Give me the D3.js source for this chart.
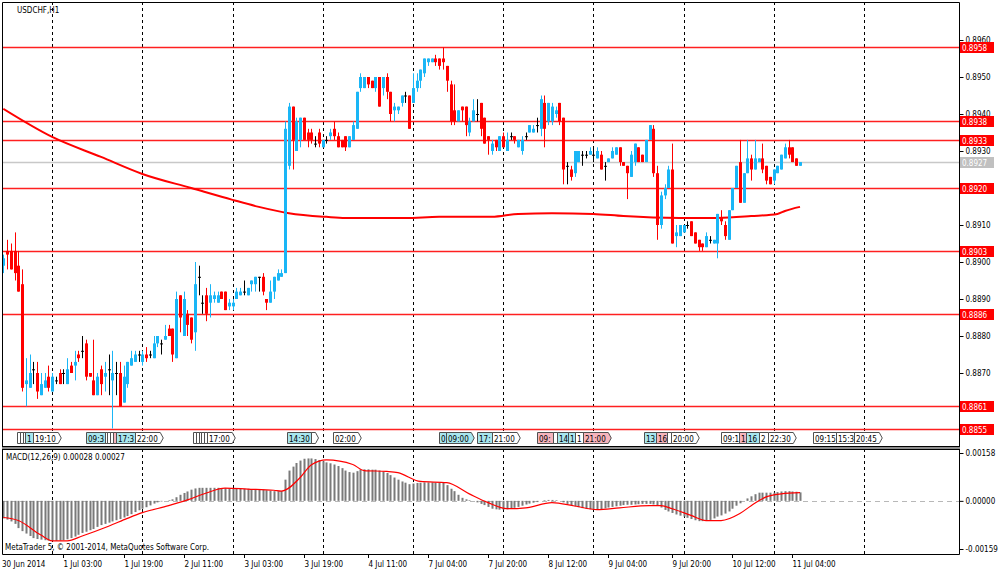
<!DOCTYPE html>
<html>
<head>
<meta charset="utf-8">
<script src="https://cdn.jsdelivr.net/npm/d3@7"></script>
<style>
body { margin: 0; background: #fff; }
svg text { font-family: "DejaVu Sans Condensed", "DejaVu Sans", sans-serif; font-stretch: condensed; font-size: 8px; }
</style>
</head>
<body>
<svg id="chart" width="1000" height="574"></svg>
<script>
// USDCHF H1 bars
const barOpen = [
.8899,.8903,.8903,.8903,.8899,.8894,.8867,.8866,.8871,.8870,.8864,.8866,.8869,.8865,.8868,.8870,.8870,.8867,.8872,.8872,
.8875,.8876,.8878,.8870,.8868,.8864,.8871,.8869,.8871,.8868,.8870,.8870,.8862,.8867,.8872,.8873,.8875,.8873,.8875,.8875,
.8874,.8878,.8878,.8879,.8882,.8882,.8874,.8891,.8880,.8886,.8885,.8881,.8896,.8889,.8891,.8889,.8890,.8889,.8892,.8892,
.8888,.8888,.8890,.8891,.8892,.8891,.8894,.8894,.8896,.8896,.8890,.8889,.8892,.8895,.8896,.8897,.8926,.8942,.8930,.8933,
.8939,.8935,.8935,.8932,.8935,.8931,.8933,.8934,.8936,.8934,.8933,.8934,.8931,.8933,.8936,.8947,.8947,.8950,.8949,.8947,
.8950,.8947,.8950,.8946,.8941,.8941,.8943,.8945,.8945,.8943,.8947,.8949,.8951,.8954,.8954,.8955,.8955,.8955,.8953,.8948,
.8941,.8938,.8942,.8942,.8935,.8938,.8940,.8943,.8939,.8934,.8930,.8933,.8930,.8934,.8930,.8934,.8934,.8931,.8930,.8934,
.8935,.8935,.8937,.8936,.8943,.8938,.8938,.8940,.8943,.8939,.8926,.8925,.8924,.8927,.8929,.8929,.8929,.8929,.8928,.8929,
.8926,.8927,.8928,.8929,.8931,.8927,.8926,.8923,.8927,.8931,.8929,.8927,.8933,.8936,.8924,.8910,.8918,.8920,.8925,.8907,
.8907,.8908,.8910,.8911,.8908,.8906,.8905,.8904,.8906,.8905,.8905,.8912,.8910,.8906,.8914,.8920,.8927,.8916,.8924,.8928,
.8925,.8927,.8928,.8926,.8923,.8922,.8924,.8925,.8928,.8931,.8931,.8928,.8926
];
const barHigh = [
.8902,.8906,.8905,.8908,.8903,.8898,.8874,.8875,.8873,.8873,.8870,.8870,.8872,.8870,.8869,.8871,.8871,.8874,.8873,.8876,
.8876,.8880,.8879,.8870,.8879,.8870,.8872,.8873,.8875,.8876,.8873,.8873,.8872,.8873,.8876,.8876,.8876,.8876,.8877,.8876,
.8880,.8880,.8879,.8883,.8883,.8882,.8892,.8891,.8892,.8887,.8885,.8900,.8899,.8891,.8893,.8894,.8892,.8892,.8892,.8892,
.8890,.8890,.8893,.8893,.8895,.8893,.8895,.8896,.8896,.8897,.8890,.8895,.8896,.8898,.8898,.8938,.8943,.8942,.8939,.8939,
.8939,.8936,.8936,.8934,.8936,.8933,.8934,.8936,.8938,.8935,.8933,.8934,.8934,.8938,.8946,.8951,.8950,.8950,.8949,.8950,
.8950,.8950,.8951,.8946,.8943,.8942,.8945,.8946,.8945,.8951,.8951,.8952,.8955,.8955,.8955,.8956,.8955,.8958,.8953,.8949,
.8948,.8941,.8942,.8942,.8939,.8944,.8944,.8943,.8939,.8934,.8933,.8933,.8934,.8935,.8935,.8935,.8934,.8933,.8934,.8935,
.8937,.8937,.8939,.8945,.8945,.8943,.8943,.8942,.8943,.8939,.8927,.8926,.8930,.8930,.8930,.8930,.8931,.8931,.8931,.8930,
.8927,.8928,.8931,.8931,.8931,.8927,.8926,.8930,.8932,.8931,.8929,.8933,.8937,.8937,.8926,.8919,.8921,.8926,.8932,.8910,
.8910,.8910,.8911,.8911,.8908,.8906,.8905,.8908,.8907,.8906,.8913,.8914,.8911,.8914,.8920,.8926,.8933,.8924,.8933,.8929,
.8933,.8928,.8932,.8926,.8923,.8925,.8926,.8929,.8932,.8933,.8931,.8928,.8927
];
const barLow = [
.8897,.8898,.8898,.8895,.8892,.8865,.8861,.8866,.8867,.8863,.8864,.8866,.8865,.8865,.8867,.8867,.8867,.8867,.8870,.8868,
.8873,.8874,.8868,.8869,.8864,.8864,.8864,.8865,.8864,.8855,.8864,.8861,.8862,.8866,.8872,.8873,.8873,.8872,.8873,.8874,
.8874,.8877,.8875,.8879,.8880,.8873,.8874,.8881,.8880,.8880,.8878,.8876,.8891,.8886,.8884,.8885,.8889,.8889,.8890,.8887,
.8887,.8887,.8890,.8891,.8891,.8891,.8892,.8892,.8892,.8891,.8887,.8889,.8890,.8895,.8896,.8897,.8925,.8925,.8930,.8931,
.8933,.8931,.8932,.8931,.8931,.8931,.8932,.8933,.8933,.8931,.8931,.8930,.8931,.8933,.8936,.8946,.8947,.8947,.8947,.8946,
.8942,.8945,.8944,.8938,.8938,.8940,.8942,.8943,.8936,.8943,.8946,.8947,.8950,.8953,.8954,.8953,.8952,.8952,.8946,.8937,
.8937,.8938,.8938,.8934,.8934,.8938,.8938,.8934,.8932,.8929,.8929,.8930,.8930,.8931,.8930,.8933,.8932,.8931,.8929,.8933,
.8935,.8935,.8935,.8934,.8931,.8937,.8937,.8939,.8937,.8921,.8921,.8922,.8923,.8927,.8926,.8928,.8929,.8927,.8928,.8925,
.8922,.8927,.8928,.8929,.8926,.8926,.8917,.8923,.8926,.8927,.8927,.8927,.8933,.8923,.8906,.8909,.8917,.8920,.8905,.8904,
.8907,.8908,.8909,.8907,.8905,.8903,.8903,.8904,.8905,.8905,.8901,.8910,.8906,.8906,.8914,.8920,.8916,.8916,.8924,.8922,
.8925,.8927,.8924,.8921,.8921,.8921,.8924,.8925,.8928,.8928,.8927,.8926,.8926
];
const barClose = [
.8901,.8902,.8898,.8897,.8892,.8866,.8868,.8870,.8871,.8865,.8867,.8868,.8866,.8869,.8868,.8867,.8870,.8871,.8870,.8873,
.8874,.8876,.8869,.8869,.8864,.8869,.8867,.8870,.8871,.8870,.8870,.8861,.8869,.8873,.8874,.8875,.8875,.8875,.8874,.8875,
.8878,.8880,.8878,.8880,.8880,.8875,.8890,.8885,.8890,.8883,.8879,.8894,.8896,.8889,.8886,.8891,.8891,.8891,.8890,.8887,
.8889,.8889,.8892,.8892,.8892,.8893,.8895,.8896,.8896,.8892,.8889,.8892,.8896,.8897,.8897,.8936,.8942,.8933,.8938,.8939,
.8933,.8933,.8933,.8932,.8932,.8933,.8933,.8935,.8934,.8931,.8931,.8931,.8934,.8937,.8946,.8950,.8950,.8948,.8947,.8950,
.8942,.8950,.8946,.8940,.8942,.8942,.8945,.8945,.8936,.8947,.8949,.8952,.8955,.8955,.8955,.8954,.8953,.8954,.8949,.8938,
.8938,.8941,.8941,.8937,.8938,.8941,.8940,.8936,.8932,.8933,.8932,.8931,.8934,.8931,.8933,.8934,.8933,.8933,.8933,.8934,
.8937,.8936,.8937,.8944,.8936,.8943,.8942,.8941,.8938,.8925,.8926,.8923,.8930,.8930,.8929,.8929,.8930,.8929,.8930,.8925,
.8926,.8928,.8930,.8931,.8927,.8926,.8924,.8929,.8932,.8927,.8927,.8933,.8937,.8924,.8910,.8918,.8920,.8925,.8905,.8908,
.8910,.8910,.8910,.8907,.8905,.8904,.8904,.8907,.8906,.8906,.8913,.8911,.8907,.8914,.8920,.8926,.8916,.8924,.8928,.8925,
.8928,.8928,.8925,.8922,.8921,.8925,.8926,.8929,.8931,.8929,.8927,.8926,.8927
];

// moving average, read at a few bars
const maBar = [0, 13, 26, 37, 50, 61, 68, 76, 86, 91, 107, 116, 130, 137, 146, 157, 165, 180, 190, 199, 206, 208, 212];
const maValue = [.89414, .89338, .89284, .89238, .89200, .89168, .89149, .89132, .89122, .89119, .89119, .89122, .89122,
  .89130, .89132, .89130, .89124, .89119, .89119, .89124, .89130, .89138, .89149];

// MACD main values (histogram), one per bar
const macdMain = [
-.00058,-.00062,-.00068,-.00076,-.00090,-.00100,-.00108,-.00116,-.00123,-.00126,-.00128,-.00130,-.00131,-.00132,-.00132,-.00131,-.00130,-.00127,-.00123,-.00118,
-.00112,-.00106,-.00102,-.00097,-.00093,-.00086,-.00080,-.00076,-.00072,-.00068,-.00064,-.00060,-.00055,-.00050,-.00044,-.00037,-.00031,-.00026,-.00021,-.00015,
-.00009,-.00005,-.00002,.00000,.00002,.00005,.00012,.00020,.00026,.00031,.00037,.00041,.00043,.00043,.00043,.00043,.00043,.00043,.00042,.00042,
.00041,.00041,.00041,.00040,.00040,.00040,.00039,.00039,.00038,.00037,.00035,.00033,.00032,.00032,.00033,.00070,.00100,.00113,.00125,.00133,
.00139,.00140,.00140,.00138,.00135,.00131,.00127,.00124,.00120,.00115,.00108,.00100,.00095,.00093,.00098,.00103,.00104,.00104,.00103,.00103,
.00100,.00097,.00092,.00085,.00077,.00070,.00064,.00060,.00055,.00057,.00059,.00060,.00061,.00061,.00061,.00060,.00060,.00060,.00052,.00040,
.00032,.00020,.00010,.00005,.00002,.00000,-.00005,-.00010,-.00014,-.00020,-.00026,-.00028,-.00029,-.00029,-.00028,-.00026,-.00023,-.00020,-.00016,-.00012,
-.00009,-.00006,-.00004,.00000,.00002,.00003,.00003,.00002,.00000,-.00005,-.00010,-.00014,-.00018,-.00021,-.00024,-.00026,-.00028,-.00029,-.00029,-.00028,
-.00025,-.00022,-.00020,-.00018,-.00016,-.00014,-.00013,-.00013,-.00012,-.00011,-.00010,-.00010,-.00010,-.00012,-.00016,-.00022,-.00030,-.00035,-.00040,-.00045,
-.00049,-.00052,-.00056,-.00060,-.00064,-.00067,-.00067,-.00066,-.00063,-.00058,-.00052,-.00048,-.00042,-.00035,-.00026,-.00016,-.00008,.00000,.00008,.00015,
.00022,.00027,.00027,.00027,.00027,.00027,.00029,.00031,.00032,.00032,.00031,.00030,.00028
];
// MACD signal line, read at a few bars
const signalBar = [0, 4, 10, 13, 17, 21, 28, 33, 37, 44, 49, 54, 59, 65, 72, 74, 79, 82, 86, 93, 96, 102, 105, 111, 118,
  124, 129, 134, 139, 146, 152, 158, 164, 172, 175, 178, 183, 187, 191, 196, 199, 203, 207, 212];
const signalValue = [-.00055, -.00065, -.00113, -.00132, -.00132, -.00116, -.00084, -.00058, -.00039, -.00016, .00003, .00026,
  .00042, .00039, .00035, .00032, .00077, .00119, .00135, .00120, .00100, .00097, .00093, .00064, .00060, .00023, -.00006,
  -.00026, -.00023, -.00006, -.00017, -.00029, -.00023, -.00016, -.00016, -.00026, -.00048, -.00065, -.00065, -.00042,
  -.00016, .00013, .00023, .00027];

// horizontal price lines and bid
const levelPrices = [0.8958, 0.8938, 0.8933, 0.8920, 0.8903, 0.8886, 0.8861, 0.8855];
const bidPrice = 0.8927;
const priceTicks = [0.8960, 0.8950, 0.8940, 0.8930, 0.8910, 0.8900, 0.8890, 0.8880, 0.8870, 0.8860];
const macdTicks = [0.00158, 0, -0.00159];

// time axis
const timeTickBar = [0, 16, 32, 48, 64, 80, 97, 113, 129, 145, 161, 178, 194, 210];
const timeTickLabel = ["30 Jun 2014", "1 Jul 03:00", "1 Jul 19:00", "2 Jul 11:00", "3 Jul 03:00", "3 Jul 19:00",
  "4 Jul 11:00", "7 Jul 04:00", "7 Jul 20:00", "8 Jul 12:00", "9 Jul 04:00", "9 Jul 20:00", "10 Jul 12:00", "11 Jul 04:00"];

// calendar events (bar position, text, kind)
const eventBar = [3.6, 4.4, 5.2, 5.8, 7.9, 22.0, 27.1, 27.7, 28.4, 29.2, 30.0, 35.0, 50.5, 51.2, 52.0, 52.6, 53.4, 54.2,
  75.4, 81.9, 87.7, 115.9, 117.7, 126.0, 130.0, 142.0, 146.2, 147.3, 150.2, 152.0, 154.2, 170.4, 173.6, 176.5, 177.6,
  190.9, 195.7, 197.5, 201.2, 203.4, 215.4, 221.7, 226.3];
const eventText = ["", "", "", "1", "19:10", "09:30", "", "", "", "", "17:30", "22:00", "", "", "", "", "", "17:00",
  "14:30", "", "02:00", "0", "09:00", "17:30", "21:00", "09:15", "", "14", "1", "1", "21:00", "13", "16", "", "20:00",
  "09:15", "1", "16", "2", "22:30", "09:15", "15:30", "20:45"];
const eventKind = ["w", "w", "w", "c", "w", "c", "w", "w", "w", "p", "c", "w", "w", "w", "w", "w", "w", "w",
  "c", "w", "w", "c", "c", "c", "w", "p", "w", "c", "c", "w", "p", "c", "p", "w", "w",
  "w", "p", "c", "w", "w", "w", "w", "w"];

const W = 1000, H = 574;
const left = 2, right = 959;
const mainTop = 2, mainBottom = 446;
const macdTop = 449, macdBottom = 554;

const colors = {up: "#1ab6f6", down: "#ff0000", doji: "#000000", level: "#ff2020", bid: "#c8c8c8",
  hist: "#7a7a7a", signal: "#ff0000", ma: "#ff0000", grid: "#000000"};
const eventFill = {w: "#ffffff", c: "#a8e6ee", p: "#f6b4bc"};

const svg = d3.select("#chart");
svg.append("rect").attr("width", W).attr("height", H).attr("fill", "#fff");

const x = d3.scaleLinear().domain([0, barClose.length - 1]).range([3.3, 800]);
const y = d3.scaleLinear().domain([0.8860, 0.8960]).range([410, 40]);
const ym = d3.scaleLinear().domain([-0.00159, 0.00158]).range([549, 453]);

const defs = svg.append("defs");
defs.append("clipPath").attr("id", "clipMain")
    .append("rect").attr("x", left + 1).attr("y", mainTop + 1)
    .attr("width", right - left - 1).attr("height", mainBottom - mainTop - 1);
defs.append("clipPath").attr("id", "clipMacd")
    .append("rect").attr("x", left + 1).attr("y", macdTop + 1)
    .attr("width", right - left - 1).attr("height", macdBottom - macdTop - 1);

const main = svg.append("g").attr("clip-path", "url(#clipMain)");
const macd = svg.append("g").attr("clip-path", "url(#clipMacd)");

// vertical dashed grid, every 24 bars
const gridBars = d3.range(13, 240, 24);
[[main, mainTop, mainBottom], [macd, macdTop, macdBottom]].forEach(([g, t, b]) => {
    g.selectAll("line.grid")
        .data(gridBars)
        .join("line")
        .attr("class", "grid")
        .attr("x1", d => Math.round(x(d)) + 0.5)
        .attr("x2", d => Math.round(x(d)) + 0.5)
        .attr("y1", t)
        .attr("y2", b)
        .attr("stroke", colors.grid)
        .attr("stroke-dasharray", "3,3");
});

// bid line
main.append("line")
    .attr("x1", left).attr("x2", right)
    .attr("y1", Math.round(y(bidPrice)) + 0.5).attr("y2", Math.round(y(bidPrice)) + 0.5)
    .attr("stroke", colors.bid).attr("stroke-width", 1.5);

// price level lines
main.selectAll("line.level")
    .data(levelPrices)
    .join("line")
    .attr("class", "level")
    .attr("x1", left).attr("x2", right)
    .attr("y1", d => Math.round(y(d)) + 0.5)
    .attr("y2", d => Math.round(y(d)) + 0.5)
    .attr("stroke", colors.level)
    .attr("stroke-width", 1.3);

// moving average
const maLine = d3.line()
    .x((d, i) => x(maBar[i]))
    .y(d => y(d))
    .curve(d3.curveMonotoneX);
main.append("path")
    .attr("d", maLine(maValue))
    .attr("fill", "none")
    .attr("stroke", colors.ma)
    .attr("stroke-width", 2);

// candles
const bars = barClose.map((c, i) => ({i, o: barOpen[i], h: barHigh[i], l: barLow[i], c}));
const candleColor = d => d.c > d.o ? colors.up : (d.c < d.o ? colors.down : colors.doji);
const candles = main.append("g").selectAll("g")
    .data(bars)
    .join("g");
candles.append("line")
    .attr("x1", d => Math.round(x(d.i)) + 0.5)
    .attr("x2", d => Math.round(x(d.i)) + 0.5)
    .attr("y1", d => y(d.h))
    .attr("y2", d => y(d.l))
    .attr("stroke", candleColor)
    .attr("stroke-width", 1);
candles.append("rect")
    .attr("x", d => Math.round(x(d.i)) - 1)
    .attr("width", 3)
    .attr("y", d => y(Math.max(d.o, d.c)))
    .attr("height", d => Math.max(1, Math.abs(y(d.o) - y(d.c))))
    .attr("fill", candleColor);

// calendar events row: each label is cut where the next one starts
const evG = main.append("g");
const evX = eventBar.map(e => Math.round(x(e)) + 0.5);
eventBar.forEach((e, i) => {
    const x0 = evX[i];
    const room = i < eventBar.length - 1 ? evX[i + 1] - x0 : Infinity;
    const g = evG.append("g");
    const path = g.append("path");
    const t = g.append("text")
        .attr("x", x0 + 1.5)
        .attr("y", 441.5)
        .attr("fill", "#000");
    let label = eventText[i];
    t.text(label);
    const full = label ? t.node().getComputedTextLength() : 0;
    while (label.length && t.node().getComputedTextLength() + 1 > room) {
        label = label.slice(0, -1);
        t.text(label);
    }
    const w = full + 7;
    const y0 = 432.5, y1 = 443.5;
    path.attr("d", `M${x0},${y0}H${x0 + w - 3}L${x0 + w},${(y0 + y1) / 2}L${x0 + w - 3},${y1}H${x0}Z`)
        .attr("fill", eventFill[eventKind[i]])
        .attr("stroke", "#505050")
        .attr("stroke-width", 1);
});

// MACD zero line, histogram and signal
macd.append("line")
    .attr("x1", left).attr("x2", right)
    .attr("y1", Math.round(ym(0)) + 0.5).attr("y2", Math.round(ym(0)) + 0.5)
    .attr("stroke", "#b8b8b8")
    .attr("stroke-dasharray", "5,4");

macd.append("g").selectAll("rect")
    .data(macdMain)
    .join("rect")
    .attr("x", (d, i) => Math.round(x(i)) - 0.5)
    .attr("width", 2)
    .attr("y", d => Math.min(ym(d), ym(0)))
    .attr("height", d => Math.abs(ym(d) - ym(0)))
    .attr("fill", colors.hist);

const sigLine = d3.line()
    .x((d, i) => x(signalBar[i]))
    .y(d => ym(d))
    .curve(d3.curveMonotoneX);
macd.append("path")
    .attr("d", sigLine(signalValue))
    .attr("fill", "none")
    .attr("stroke", colors.signal)
    .attr("stroke-width", 1.2);

// frames
svg.append("path")
    .attr("d", `M${left + 0.5},${mainTop + 0.5}H${right + 0.5}V${macdBottom + 0.5}H${left + 0.5}Z`)
    .attr("fill", "none").attr("stroke", "#000");
svg.append("rect")
    .attr("x", left).attr("y", mainBottom).attr("width", right - left + 1).attr("height", 3)
    .attr("fill", "#8c8c8c");
svg.append("line")
    .attr("x1", left).attr("x2", right + 1).attr("y1", mainBottom + 0.5).attr("y2", mainBottom + 0.5)
    .attr("stroke", "#000");
svg.append("line")
    .attr("x1", left).attr("x2", right + 1).attr("y1", macdTop + 0.5).attr("y2", macdTop + 0.5)
    .attr("stroke", "#000");

// price axis; a tick label sitting under a price tag stays hidden, as in the terminal
const tagPrices = levelPrices.concat([bidPrice]);
const priceAxis = d3.axisRight(y)
    .tickValues(priceTicks)
    .tickSize(4)
    .tickPadding(2)
    .tickFormat(d3.format(".4f"));
svg.append("g")
    .attr("transform", `translate(${right + 0.5},0)`)
    .call(priceAxis)
    .call(g => g.select(".domain").remove())
    .call(g => g.selectAll("text").attr("font-size", null).attr("font-family", null).attr("fill", "#000"))
    .call(g => g.selectAll(".tick text")
        .filter(d => tagPrices.some(p => Math.abs(y(p) - y(d)) < 5))
        .remove());

const macdAxis = d3.axisRight(ym)
    .tickValues(macdTicks)
    .tickSize(4)
    .tickPadding(2)
    .tickFormat(d3.format(".5f"));
svg.append("g")
    .attr("transform", `translate(${right + 0.5},0)`)
    .call(macdAxis)
    .call(g => g.select(".domain").remove())
    .call(g => g.selectAll("text").attr("font-size", null).attr("font-family", null).attr("fill", "#000"))
    .call(g => g.selectAll(".tick text").text(d => d < 0 ? "-" + d3.format(".5f")(-d) : d3.format(".5f")(d)));

// price tags on the right
const tags = svg.append("g");
const tagData = levelPrices.map(p => ({p, fill: "#ff0000"})).concat([{p: bidPrice, fill: "#c0c0c0"}]);
tags.selectAll("g")
    .data(tagData)
    .join("g")
    .each(function(d) {
        const g = d3.select(this);
        const cy = Math.round(y(d.p));
        g.append("rect")
            .attr("x", right + 1).attr("y", cy - 5)
            .attr("width", 34).attr("height", 11)
            .attr("fill", d.fill);
        g.append("text")
            .attr("x", right + 3).attr("y", cy + 3.5)
            .attr("fill", "#fff")
            .text(d3.format(".4f")(d.p));
    });

// time axis
const timeG = svg.append("g");
timeTickBar.forEach((b, i) => {
    const tx = i === 0 ? 2 : Math.round(x(b)) + 0.5;
    if (i > 0) {
        timeG.append("line")
            .attr("x1", tx).attr("x2", tx)
            .attr("y1", macdBottom).attr("y2", macdBottom + 4)
            .attr("stroke", "#000");
    }
    timeG.append("text")
        .attr("x", i === 0 ? 2 : tx)
        .attr("y", 567)
        .attr("fill", "#000")
        .text(timeTickLabel[i]);
});

// titles
svg.append("text").attr("x", 17).attr("y", 13).attr("fill", "#000").text("USDCHF,H1");
svg.append("text").attr("x", 6).attr("y", 460).attr("fill", "#000")
    .text(`MACD(12,26,9) ${macdMain[macdMain.length - 1].toFixed(5)} ${signalValue[signalValue.length - 1].toFixed(5)}`);
svg.append("text").attr("x", 5).attr("y", 550).attr("fill", "#000")
    .text("MetaTrader 5, © 2001-2014, MetaQuotes Software Corp.");
</script>
</body>
</html>
